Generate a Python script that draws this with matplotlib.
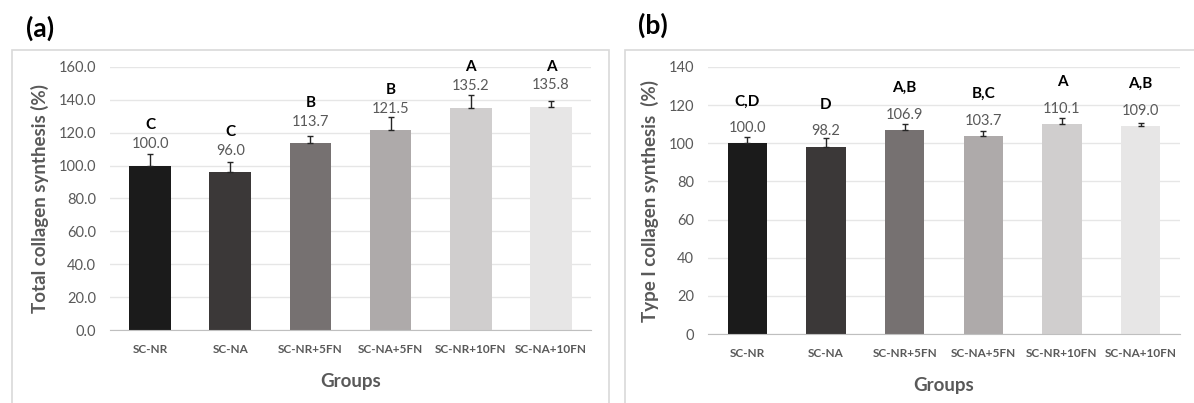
import matplotlib
matplotlib.use("Agg")
import matplotlib.pyplot as plt
from matplotlib.patches import Rectangle

plt.rcParams["font.family"] = ["Lato", "DejaVu Sans"]

groups = ["SC-NR", "SC-NA", "SC-NR+5FN", "SC-NA+5FN", "SC-NR+10FN", "SC-NA+10FN"]
bar_colors = ["#1b1b1b", "#3b3838", "#767171", "#aeaaaa", "#d0cece", "#e7e6e6"]

# panel (a): total collagen synthesis
total_vals = [100.0, 96.0, 113.7, 121.5, 135.2, 135.8]
total_err = [7.0, 6.0, 4.5, 8.0, 8.0, 3.7]
total_letters = ["C", "C", "B", "B", "A", "A"]

# panel (b): type I collagen synthesis
type1_vals = [100.0, 98.2, 106.9, 103.7, 110.1, 109.0]
type1_err = [3.4, 4.6, 3.0, 2.6, 3.3, 1.4]
type1_letters = ["C,D", "D", "A,B", "B,C", "A", "A,B"]

W, H = 1194, 403
GRAY = "#595959"


def px_axes(fig, left, right, top, bottom):
    return fig.add_axes([left / W, (H - bottom) / H, (right - left) / W, (bottom - top) / H])


def draw_panel(ax, vals, err, letters, ymax, step, fmt, width, lab_off, let_off, ylabel):
    x = list(range(len(groups)))
    ax.bar(x, vals, width=width, color=bar_colors, zorder=2)
    # upper error bars only, as in Excel "plus" style
    ax.errorbar(x, vals, yerr=[[0] * len(err), err], fmt="none", ecolor="#262626",
                elinewidth=1.0, capsize=2.5, capthick=1.0, zorder=3)
    for xi, v, l in zip(x, vals, letters):
        ax.text(xi, v + lab_off, f"{v:.1f}", ha="center", va="center",
                fontsize=10.5, color=GRAY, zorder=4)
        ax.text(xi, v + let_off, l, ha="center", va="center",
                fontsize=11, fontweight="bold", color="black", zorder=4)
    ax.set_xlim(-0.5, len(groups) - 0.5)
    ax.set_ylim(0, ymax)
    ticks = [i * step for i in range(int(ymax / step) + 1)]
    ax.set_yticks(ticks)
    ax.set_yticklabels([fmt.format(t) for t in ticks], fontsize=10.5, color=GRAY)
    ax.set_xticks(x)
    ax.set_xticklabels(groups, fontsize=8.5, fontweight="bold", color=GRAY)
    ax.tick_params(axis="both", length=0)
    ax.tick_params(axis="y", pad=10)
    ax.tick_params(axis="x", pad=10)
    ax.grid(axis="y", color="#e6e6e6", linewidth=1, zorder=0)
    for s in ["top", "right", "left"]:
        ax.spines[s].set_visible(False)
    ax.spines["bottom"].set_color("#bfbfbf")
    ax.set_xlabel("Groups", fontsize=13.5, fontweight="bold", color=GRAY, labelpad=13)
    ax.set_ylabel(ylabel, fontsize=13.5, fontweight="bold", color=GRAY, labelpad=7)


fig = plt.figure(figsize=(W / 100, H / 100), dpi=100)

# chart frames
fig.patches.append(Rectangle((12 / W, -0.1), (609 - 12) / W, 1.1 - 50 / H,
                             transform=fig.transFigure, fill=False,
                             edgecolor="#d9d9d9", linewidth=1.2))
fig.patches.append(Rectangle((625 / W, -0.1), (1220 - 625) / W, 1.1 - 50 / H,
                             transform=fig.transFigure, fill=False,
                             edgecolor="#d9d9d9", linewidth=1.2))

ax1 = px_axes(fig, 110, 591, 67, 330)
draw_panel(ax1, total_vals, total_err, total_letters, 160, 20, "{:.1f}", 0.52,
           13, 24.5, "Total collagen synthesis (%)")

ax2 = px_axes(fig, 708, 1180, 67, 334)
draw_panel(ax2, type1_vals, type1_err, type1_letters, 140, 20, "{:.0f}", 0.5,
           8, 22, "Type I collagen synthesis  (%)")

fig.text(26 / W, 1 - 28 / H, "(a)", fontsize=19, fontweight="bold", va="center", ha="left")
fig.text(638 / W, 1 - 25 / H, "(b)", fontsize=19, fontweight="bold", va="center", ha="left")

fig.savefig("out.png", dpi=100)
